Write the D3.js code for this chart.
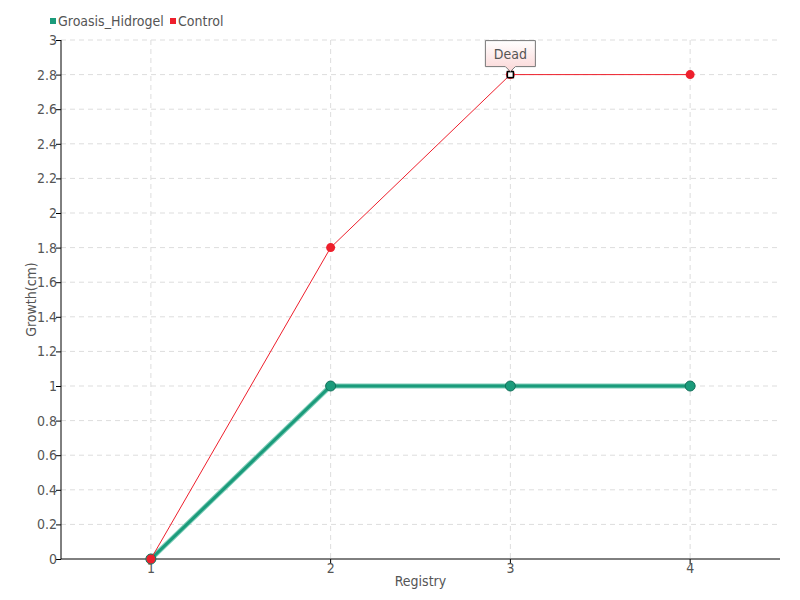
<!DOCTYPE html>
<html><head><meta charset="utf-8">
<script src="https://cdn.jsdelivr.net/npm/d3@7"></script>
<style>
body{margin:0;background:#fff;}
text{font-family:"DejaVu Sans","Liberation Sans",sans-serif;font-stretch:condensed;fill:#555;}
</style></head>
<body><svg id="c" width="800" height="600"></svg>
<script>
const categories = ["1","2","3","4"];
const groasis = [0, 1, 1, 1];
const control = [0, 1.8, 2.8, 2.8];
const yTicks = [0,0.2,0.4,0.6,0.8,1,1.2,1.4,1.6,1.8,2,2.2,2.4,2.6,2.8,3];
const seriesNames = ["Groasis_Hidrogel","Control"];
const annotation = {series:"Control", index:2, label:"Dead"};

const svg = d3.select("#c");
const L=61,R=780,T=40,B=559;
const x = d3.scaleBand().domain(categories).range([L,R]);
const y = d3.scaleLinear().domain([0,3]).range([B,T]);
const cx = c => x(c)+x.bandwidth()/2;

// grid
svg.append("g").selectAll("line").data(yTicks.filter(d=>d>0)).join("line")
 .attr("x1",L).attr("x2",R).attr("y1",d=>y(d)).attr("y2",d=>y(d))
 .attr("stroke","#ddd").attr("stroke-dasharray","5,4");
svg.append("g").selectAll("line").data(categories).join("line")
 .attr("x1",d=>cx(d)).attr("x2",d=>cx(d)).attr("y1",T).attr("y2",B)
 .attr("stroke","#ddd").attr("stroke-dasharray","5,4");

// axes
const ya = svg.append("g").attr("transform",`translate(${L},0)`)
 .call(d3.axisLeft(y).tickValues(yTicks).tickSize(5).tickFormat(d=>String(d)));
ya.select(".domain").attr("stroke","#000").attr("d",`M0,${T}V${B}`);
ya.selectAll(".tick line").attr("stroke","#000");
ya.selectAll(".tick text").attr("x",-4).style("font-size","14px").attr("fill","#555");

const xa = svg.append("g").attr("transform",`translate(0,${B})`)
 .call(d3.axisBottom(x).tickSize(5));
xa.select(".domain").attr("stroke","#000").attr("d",`M${L},0H${R}`);
xa.selectAll(".tick line").attr("stroke","#000");
xa.selectAll(".tick text").attr("y",4).style("font-size","14px").attr("fill","#555");

svg.append("text").attr("x",(L+R)/2).attr("y",586).attr("text-anchor","middle")
 .style("font-size","14px").text("Registry");
svg.append("text").attr("transform",`translate(36,${(T+B)/2}) rotate(-90)`).attr("text-anchor","middle")
 .style("font-size","14px").text("Growth(cm)");

// lines
const line = d3.line().x((d,i)=>cx(categories[i])).y(d=>y(d));
const gC="#1b9b7b", rC="#ee1f2c";
svg.append("path").datum(groasis).attr("d",line).attr("fill","none")
 .attr("stroke","#5cc0a6").attr("stroke-width",5).attr("opacity",0.8);
svg.append("path").datum(groasis).attr("d",line).attr("fill","none")
 .attr("stroke",gC).attr("stroke-width",3);
svg.append("g").selectAll("circle").data(groasis).join("circle")
 .attr("cx",(d,i)=>cx(categories[i])).attr("cy",d=>y(d)).attr("r",5)
 .attr("fill",gC).attr("stroke","#11705a").attr("stroke-width",1);

svg.append("path").datum(control).attr("d",line).attr("fill","none")
 .attr("stroke",rC).attr("stroke-width",1);
svg.append("g").selectAll("circle").data(control.map((v,i)=>({v,i}))).join("circle")
 .attr("cx",d=>cx(categories[d.i])).attr("cy",d=>y(d.v)).attr("r",4.5)
 .attr("fill",rC);

// annotated point
const ax = cx(categories[annotation.index]), ay = y(control[annotation.index]);
svg.append("rect").attr("x",ax-3).attr("y",ay-3).attr("width",6).attr("height",6)
 .attr("fill","#fff").attr("stroke","#000").attr("stroke-width",1.5);

// callout
const defs = svg.append("defs");
const gr = defs.append("linearGradient").attr("id","pk").attr("x1",0).attr("x2",0).attr("y1",0).attr("y2",1);
gr.append("stop").attr("offset","0%").attr("stop-color","#fff");
gr.append("stop").attr("offset","100%").attr("stop-color","#fbd6d6");
const bw=50,bh=26,bx=ax-25,by=ay-34;
svg.append("path").attr("d",`M${bx},${by}H${bx+bw}V${by+bh}H${ax+5}L${ax},${by+bh+5}L${ax-5},${by+bh}H${bx}Z`)
 .attr("fill","url(#pk)").attr("stroke","#777");
svg.append("text").attr("x",ax).attr("y",by+18).attr("text-anchor","middle")
 .style("font-size","14px").attr("fill","#555").text(annotation.label);

// legend
const lg = svg.append("g");
lg.append("rect").attr("x",50).attr("y",18).attr("width",6).attr("height",6).attr("fill",gC);
lg.append("text").attr("x",58).attr("y",26).style("font-size","14px").text(seriesNames[0]);
lg.append("rect").attr("x",170).attr("y",18).attr("width",6).attr("height",6).attr("fill",rC);
lg.append("text").attr("x",178).attr("y",26).style("font-size","14px").text(seriesNames[1]);
</script></body></html>
